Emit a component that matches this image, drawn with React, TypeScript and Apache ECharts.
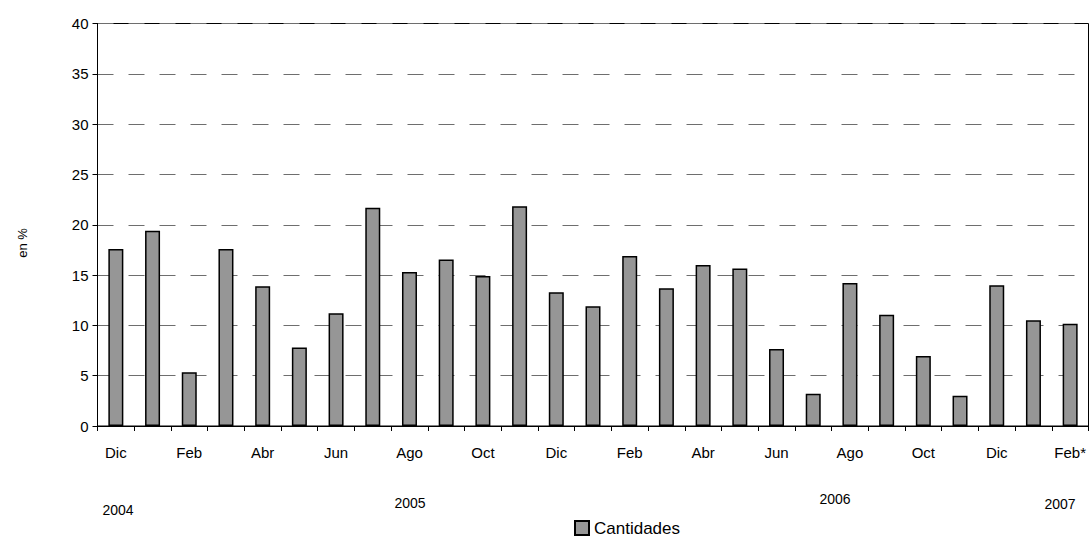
import React, { useEffect, useRef } from "react";
import * as echarts from "echarts";

const months = [
  "Dic", "Ene", "Feb", "Mar", "Abr", "May", "Jun", "Jul", "Ago", "Sep", "Oct", "Nov",
  "Dic", "Ene", "Feb", "Mar", "Abr", "May", "Jun", "Jul", "Ago", "Sep", "Oct", "Nov",
  "Dic", "Ene", "Feb*",
];
const cantidades = [
  17.6, 19.4, 5.35, 17.6, 13.9, 7.8, 11.2, 21.7, 15.3, 16.55, 14.9, 21.85, 13.3, 11.9,
  16.9, 13.7, 16.0, 15.65, 7.65, 3.2, 14.2, 11.05, 6.95, 3.0, 14.0, 10.5, 10.15,
];
const years = ["2004", "2005", "2006", "2007"];
const yTicks = [0, 5, 10, 15, 20, 25, 30, 35, 40];

const FONT = "Liberation Sans, Arial, sans-serif";

export default function App() {
  const ref = useRef<HTMLDivElement>(null);
  useEffect(() => {
    if (!ref.current) return;
    const chart = echarts.init(ref.current, null, { renderer: "svg" });
    const yearPos = [
      { x: 118, y: 510 },
      { x: 410, y: 503 },
      { x: 835, y: 499 },
      { x: 1060, y: 504 },
    ];
    chart.setOption({
      animation: false,
      backgroundColor: "#ffffff",
      textStyle: { fontFamily: FONT },
      grid: {
        left: 97.5,
        right: 1.5,
        top: 23.5,
        bottom: 114,
        show: true,
        borderColor: "#000",
        borderWidth: 1,
      },
      legend: {
        data: ["Cantidades"],
        left: 574,
        top: 518,
        padding: 0,
        icon: "rect",
        itemWidth: 14,
        itemHeight: 14,
        itemGap: 4,
        textStyle: { fontSize: 17, lineHeight: 20, color: "#000", fontFamily: FONT },
      },
      xAxis: {
        type: "category",
        data: months,
        boundaryGap: true,
        axisLine: { show: true, lineStyle: { color: "#000", width: 1 } },
        axisTick: { show: true, interval: 0, length: 5, inside: false, lineStyle: { color: "#000" } },
        axisLabel: {
          interval: 1,
          margin: 19,
          fontSize: 15,
          color: "#000",
          fontFamily: FONT,
        },
        splitLine: { show: false },
      },
      yAxis: {
        type: "value",
        min: yTicks[0],
        max: yTicks[yTicks.length - 1],
        interval: 5,
        axisLine: { show: true, lineStyle: { color: "#000", width: 1 } },
        axisTick: { show: true, length: 5, lineStyle: { color: "#000" } },
        axisLabel: { fontSize: 15, color: "#000", margin: 9, fontFamily: FONT },
        splitLine: {
          show: true,
          lineStyle: { color: "#6e6e6e", type: [16, 15], width: 1 },
        },
      },
      series: [
        {
          name: "Cantidades",
          type: "bar",
          data: cantidades,
          barWidth: 15,
          itemStyle: { color: "#969696", borderColor: "#000", borderWidth: 1.5 },
        },
      ],
      graphic: [
        ...years.map((y, i) => ({
          type: "text",
          x: yearPos[i].x,
          y: yearPos[i].y,
          style: {
            text: y,
            fontSize: 14,
            fontFamily: FONT,
            fill: "#000",
            align: "center",
            verticalAlign: "middle",
          },
        })),
        {
          type: "text",
          x: 22,
          y: 243,
          rotation: Math.PI / 2,
          style: {
            text: "en %",
            fontSize: 13,
            fontFamily: FONT,
            fill: "#000",
            align: "center",
            verticalAlign: "middle",
          },
        },
      ],
    });
    return () => chart.dispose();
  }, []);
  return (
    <div
      ref={ref}
      style={{ position: "fixed", left: 0, top: 0, width: 1090, height: 540 }}
    />
  );
}
